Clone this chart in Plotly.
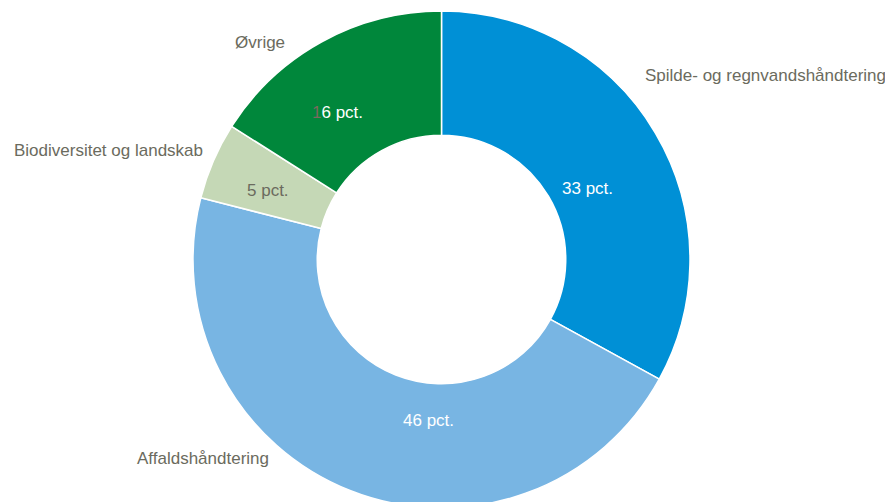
import plotly.graph_objects as go

categories = ["Spilde- og regnvandshåndtering", "Affaldshåndtering", "Biodiversitet og landskab", "Øvrige"]
values = [33, 46, 5, 16]
colors = ["#0090D6", "#78B5E3", "#C5D8B6", "#00873B"]

# page offset (default body margin) compensation
OFF = 8
W, H = 893 - OFF, 510
GRAY = "#6B6B5E"
FONT = "Liberation Sans, Arial, sans-serif"

# pie geometry in page pixels
cx, cy, R = 441.5, 259.5, 248.5
fx, fy = cx - OFF, cy - OFF           # figure pixels
fig = go.Figure(go.Pie(
    labels=categories,
    values=values,
    marker=dict(colors=colors, line=dict(color="white", width=1.5)),
    hole=0.5,
    sort=False,
    direction="clockwise",
    rotation=0,
    textinfo="none",
    hoverinfo="label+value",
    showlegend=False,
    domain=dict(x=[(fx - R) / W, (fx + R) / W],
                y=[(H - fy - R) / H, (H - fy + R) / H]),
))

def px(x, y):
    return (x - OFF) / W, 1 - (y - OFF) / H

# category labels (left-anchored), page pixels
cat_pos = [(643, 76), (135, 458), (12, 150), (233, 43)]
# value labels (centered), page pixels
val_pos = [(587, 188), (428, 420), (268, 190), (337, 113)]
val_colors = ["white", "white", GRAY, "white"]

annotations = []
for name, (x, y) in zip(categories, cat_pos):
    ax, ay = px(x, y)
    annotations.append(dict(x=ax, y=ay, xref="paper", yref="paper", text=name,
                            showarrow=False, xanchor="left", yanchor="middle",
                            font=dict(family=FONT, size=17, color=GRAY)))
for v, (x, y), c in zip(values, val_pos, val_colors):
    s = f"{v} pct."
    if v == 16:
        s = f"<span style='color:#7A6A5E'>{str(v)[0]}</span>{str(v)[1:]} pct."
    ax, ay = px(x, y)
    annotations.append(dict(x=ax, y=ay, xref="paper", yref="paper", text=s,
                            showarrow=False, xanchor="center", yanchor="middle",
                            font=dict(family=FONT, size=17, color=c)))

fig.update_layout(
    width=W, height=H,
    margin=dict(l=0, r=0, t=0, b=0),
    paper_bgcolor="white",
    plot_bgcolor="white",
    annotations=annotations,
)

fig.write_html("out.html")
